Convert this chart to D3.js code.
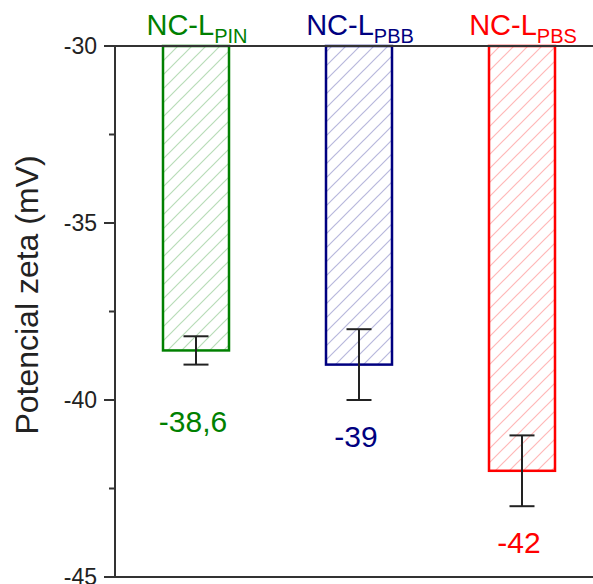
<!DOCTYPE html>
<html>
<head>
<meta charset="utf-8">
<script src="https://cdn.jsdelivr.net/npm/d3@7"></script>
<style>
	body { margin: 0; background: #fff; }
	svg text { font-family: Arial, 'Liberation Sans', sans-serif; }
</style>
</head>
<body>
<svg id="zeta-chart"></svg>
<script>
var samples = ['PIN', 'PBB', 'PBS'];
var zeta = [-38.6, -39, -42];
var zetaErr = [0.4, 1, 1];
var valueLabels = ['-38,6', '-39', '-42'];
var colors = ['#008000', '#000080', '#ff0000'];
var yTicks = [-30, -35, -40, -45];
var yMinorTicks = [-32.5, -37.5, -42.5];

var width = 593,
    height = 584;

var svg = d3.select('#zeta-chart')
	.attr('width', width)
	.attr('height', height);

var y = d3.scaleLinear()
	.domain([-30, -45])
	.range([46, 577]);

var x = d3.scalePoint()
	.domain(samples)
	.range([196, 522]);

var barWidth = 66;
var axisX = 115;

// hatch patterns, one per colour
var defs = svg.append('defs');
samples.forEach((s, i) => {
	var p = defs.append('pattern')
		.attr('id', 'hatch-' + s)
		.attr('patternUnits', 'userSpaceOnUse')
		.attr('width', 14)
		.attr('height', 14);
	p.append('path')
		.attr('d', 'M-2,2 L2,-2 M0,14 L14,0 M12,16 L16,12')
		.attr('stroke', colors[i])
		.attr('stroke-opacity', 0.28)
		.attr('stroke-width', 1.2);
});

// bars hanging from -30
svg.selectAll('.bar')
	.data(zeta)
	.enter()
	.append('rect')
	.attr('class', 'bar')
	.attr('x', (d, i) => x(samples[i]) - barWidth/2)
	.attr('y', y(-30))
	.attr('width', barWidth)
	.attr('height', d => y(d) - y(-30))
	.attr('fill', (d, i) => `url(#hatch-${samples[i]})`)
	.attr('stroke', (d, i) => colors[i])
	.attr('stroke-width', 2.5);

// error bars
var err = svg.selectAll('.err')
	.data(zeta)
	.enter()
	.append('g')
	.attr('class', 'err')
	.attr('stroke', '#222')
	.attr('stroke-width', 2);

err.append('line')
	.attr('x1', (d, i) => x(samples[i]))
	.attr('x2', (d, i) => x(samples[i]))
	.attr('y1', (d, i) => y(d + zetaErr[i]))
	.attr('y2', (d, i) => y(d - zetaErr[i]));

[1, -1].forEach(sign => {
	err.append('line')
		.attr('x1', (d, i) => x(samples[i]) - 12.5)
		.attr('x2', (d, i) => x(samples[i]) + 12.5)
		.attr('y1', (d, i) => y(d + sign*zetaErr[i]))
		.attr('y2', (d, i) => y(d + sign*zetaErr[i]));
});

// value labels under the bars
svg.selectAll('.value-label')
	.data(zeta)
	.enter()
	.append('text')
	.attr('class', 'value-label')
	.attr('x', (d, i) => x(samples[i]) - 3)
	.attr('y', d => y(d) + 82)
	.attr('text-anchor', 'middle')
	.attr('font-size', 30)
	.attr('fill', (d, i) => colors[i])
	.text((d, i) => valueLabels[i]);

// sample names on top
var names = svg.selectAll('.name-label')
	.data(samples)
	.enter()
	.append('text')
	.attr('class', 'name-label')
	.attr('x', d => x(d) + 1)
	.attr('y', 35)
	.attr('text-anchor', 'middle')
	.attr('font-size', 29)
	.attr('fill', (d, i) => colors[i]);

names.append('tspan').text('NC-L');
names.append('tspan')
	.attr('font-size', 20)
	.attr('dy', 8)
	.text(d => d);

// axes frame
var axisG = svg.append('g')
	.attr('stroke', '#333')
	.attr('stroke-width', 2);

axisG.append('line')
	.attr('x1', axisX).attr('x2', axisX)
	.attr('y1', y(-30)).attr('y2', y(-45));
axisG.append('line')
	.attr('x1', axisX).attr('x2', width)
	.attr('y1', y(-30)).attr('y2', y(-30));
axisG.append('line')
	.attr('x1', axisX).attr('x2', width)
	.attr('y1', y(-45)).attr('y2', y(-45));

axisG.selectAll('.major')
	.data(yTicks)
	.enter()
	.append('line')
	.attr('x1', axisX - 11).attr('x2', axisX)
	.attr('y1', d => y(d)).attr('y2', d => y(d));

axisG.selectAll('.minor')
	.data(yMinorTicks)
	.enter()
	.append('line')
	.attr('x1', axisX - 6).attr('x2', axisX)
	.attr('y1', d => y(d)).attr('y2', d => y(d));

svg.selectAll('.tick-label')
	.data(yTicks)
	.enter()
	.append('text')
	.attr('class', 'tick-label')
	.attr('x', 97)
	.attr('y', d => y(d))
	.attr('dy', '0.36em')
	.attr('text-anchor', 'end')
	.attr('font-size', 23)
	.attr('fill', '#222')
	.text(d => d);

svg.append('text')
	.attr('transform', `translate(38,295) rotate(-90)`)
	.attr('text-anchor', 'middle')
	.attr('font-size', 32)
	.attr('fill', '#222')
	.text('Potencial zeta (mV)');
</script>
</body>
</html>
